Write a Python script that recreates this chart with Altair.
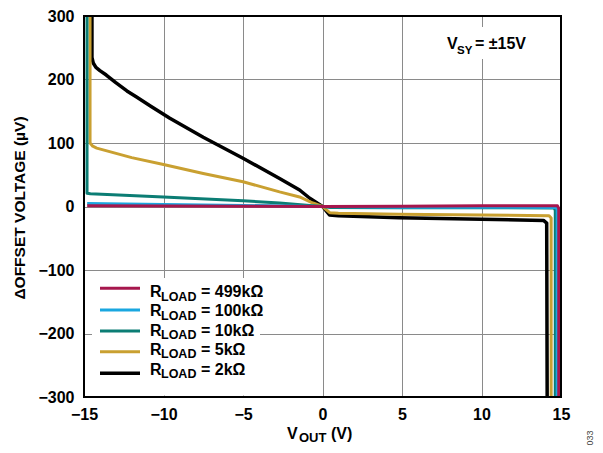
import altair as alt
import pandas as pd

# ---------------- data ----------------
x_499k = [-14.8, -10, -5, 0, 5, 10, 14.78, 14.86, 14.86]
y_499k = [1.0, 0.8, 0.5, 0, 0.5, 1.0, 1.0, -3, -300]

x_100k = [-14.8, -10, -5, 0, 5, 10, 14.7, 14.76, 14.76]
y_100k = [4.7, 3.2, 1.6, 0, -1.0, -1.2, -1.5, -5, -300]

x_10k = [-14.81, -14.81, -14.6, -10, -5, -2.7, -1, 0, 0.5, 5, 10, 14.56, 14.64, 14.64]
y_10k = [300, 21, 20, 15, 9, 5.5, 2, 0, -1.5, -1.8, -2.0, -2.2, -6, -300]

x_5k = [-14.62, -14.62, -14.45, -14.2, -12, -10, -7.5, -5, -2.7, -1.44, -0.6, 0,
        0.45, 1, 4.8, 10, 14.25, 14.38, 14.38]
y_5k = [300, 100, 95, 92, 77, 66, 52, 39, 23, 15, 5.5, 0,
        -9.7, -10.5, -12.3, -13.5, -14.5, -18, -300]

x_2k = [-14.5, -14.5, -14.42, -14.25, -14.0, -13.6, -13.0, -12.3, -11.67, -10.8, -9.6,
        -7.5, -5, -2.7, -1.44, -0.8, 0,
        0.44, 1, 4.8, 10, 13.9, 14.1, 14.13]
y_2k = [300, 235, 226, 219, 214, 207, 195, 182, 172, 158, 139,
        109, 76, 44, 26, 13, 0,
        -13.4, -14.5, -17.6, -20, -22, -26, -300]

legend_values = ["= 499kΩ", "= 100kΩ", "= 10kΩ", "= 5kΩ", "= 2kΩ"]
legend_colors = ["#A6174D", "#1AA7E0", "#0B7D74", "#C9A031", "#000000"]

x_ticks = [-15, -10, -5, 0, 5, 10, 15]
y_ticks = [-300, -200, -100, 0, 100, 200, 300]

# ---------------- chart ----------------
W, H = 477, 381
FONT = "Liberation Sans"

label_expr = "datum.value < 0 ? '\u2212' + format(-datum.value, 'd') : format(datum.value, 'd')"
xscale = alt.Scale(domain=[-15, 15], nice=False, zero=False)
yscale = alt.Scale(domain=[-300, 300], nice=False, zero=False)
xaxis = alt.Axis(values=x_ticks, title=None, labelExpr=label_expr, labelPadding=9,
                 labelFlush=False, labelOverlap=False)
yaxis = alt.Axis(values=y_ticks, title=None, labelExpr=label_expr, labelPadding=10,
                 labelOverlap=False, labelFlush=False)

dummy = pd.DataFrame({"a": [0]})


def curve(xs, ys, color, width):
    df = pd.DataFrame({"v": xs, "d": ys, "i": list(range(len(xs)))})
    return alt.Chart(df).mark_line(color=color, strokeWidth=width, clip=True,
                                   strokeJoin="round").encode(
        x=alt.X("v:Q", scale=xscale, axis=xaxis),
        y=alt.Y("d:Q", scale=yscale, axis=yaxis),
        order="i:Q",
    )


def txt(s, x, y, size=16, align="left", angle=0, color="black", weight="bold", baseline="alphabetic"):
    kw = dict(text=s, font=FONT, fontSize=size, fontWeight=weight, align=align,
              baseline=baseline, color=color)
    if angle:
        kw["angle"] = angle
    return alt.Chart(dummy).mark_text(**kw).encode(x=alt.value(x), y=alt.value(y))


def box(x1, x2, y1, y2):
    return alt.Chart(dummy).mark_rect(color="white").encode(
        x=alt.value(x1), x2=alt.value(x2), y=alt.value(y1), y2=alt.value(y2))


layers = [
    box(8, 176, 262, 379.5),
    box(356, 466, 11, 43),
    curve(x_2k, y_2k, legend_colors[4], 3.5),
    curve(x_5k, y_5k, legend_colors[3], 3),
    curve(x_10k, y_10k, legend_colors[2], 3),
    curve(x_100k, y_100k, legend_colors[1], 3),
    curve(x_499k, y_499k, legend_colors[0], 3),
]

line_rows = [272.3, 294, 315, 335.7, 357.3]
text_rows = [281.4, 300.4, 319.7, 338.7, 358.7]
for i, (val, col) in enumerate(zip(legend_values, legend_colors)):
    layers.append(alt.Chart(dummy).mark_rule(color=col, strokeWidth=3.5 if i == 4 else 3).encode(
        x=alt.value(16), x2=alt.value(56), y=alt.value(line_rows[i])))
    layers.append(txt("R", 66, text_rows[i]))
    layers.append(txt("LOAD", 77, text_rows[i] + 3.5, size=12.5))
    layers.append(txt(val, 117, text_rows[i], size=16))

# annotation
layers += [
    txt("V", 363, 33.3),
    txt("SY", 373, 38.3, size=11.5),
    txt("= ±15V", 391, 33.3),
]

# axis titles
layers += [
    txt("ΔOFFSET VOLTAGE (µV)", -64, 192, size=15.5, align="center", angle=270, baseline="middle"),
    txt("V", 203, 423),
    txt("OUT", 215, 425.5, size=13),
    txt("(V)", 247, 423),
    txt("033", 506, 422, size=9, align="center", angle=270, weight="normal", color="#444444",
        baseline="middle"),
]

# frame
layers.append(alt.Chart(dummy).mark_rect(fillOpacity=0, stroke="black", strokeWidth=2).encode(
    x=alt.value(0), x2=alt.value(W), y=alt.value(0), y2=alt.value(H)))

chart = alt.layer(*layers).properties(
    width=W, height=H,
    padding={"left": 76, "top": 8, "right": 34, "bottom": 48},
    autosize=alt.AutoSizeParams(type="none"),
).configure_view(stroke=None).configure_axis(
    labelFont=FONT, labelFontSize=16, labelFontWeight="bold", labelColor="black",
    grid=True, gridColor="#8a8a8a", gridWidth=1, domain=False, ticks=False,
)

chart.save("out.html", embed_options={"renderer": "svg", "actions": False})
